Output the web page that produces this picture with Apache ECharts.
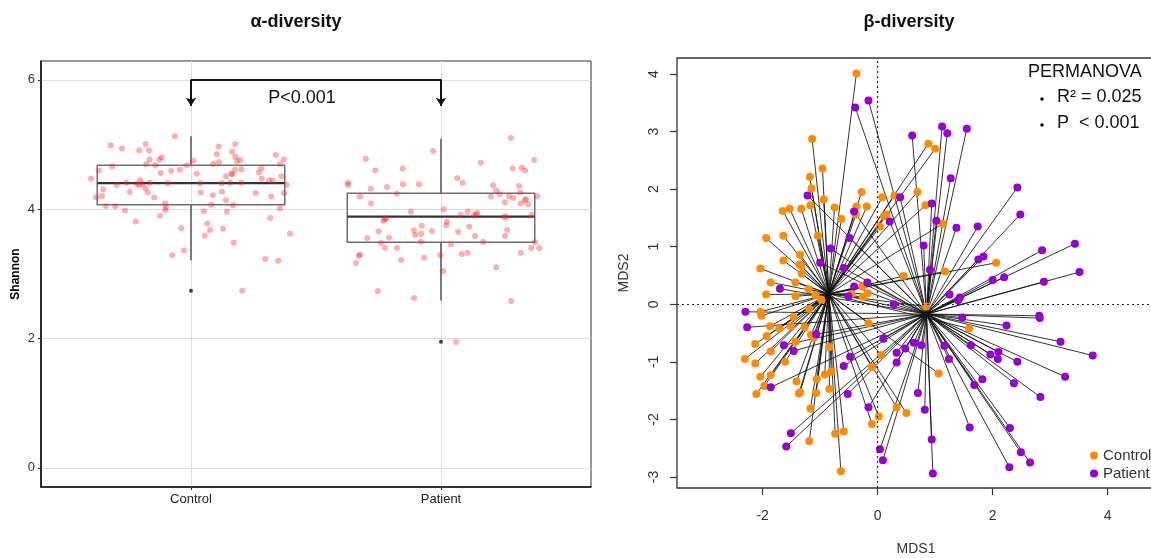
<!DOCTYPE html>
<html>
<head>
<meta charset="utf-8">
<title>alpha / beta diversity</title>
<script src="https://cdn.jsdelivr.net/npm/echarts@6/dist/echarts.min.js"></script>
<style>
html, body { margin: 0; padding: 0; background: #fff; }
#chart { width: 1151px; height: 558px; }
</style>
</head>
<body>
<div id="chart"></div>
<script>
// ---- alpha diversity (Shannon) ----
var groups = ['Control', 'Patient'];
var shannonTicks = [0, 2, 4, 6];

var ctrlJitter = [-0.065,-0.321,-0.276,-0.181,-0.207,-0.168,0.111,0.177,0.103,0.164,
	0.339,-0.165,-0.127,-0.117,0.009,0.177,0.184,0.196,0.371,-0.315,
	-0.179,-0.143,-0.017,0.089,0.112,0.356,-0.368,-0.121,-0.079,-0.045,
	0.023,0.140,0.161,0.165,0.176,0.201,0.281,0.271,0.361,-0.400,
	0.283,0.312,0.327,-0.203,-0.217,-0.207,-0.195,-0.259,-0.297,-0.165,
	-0.093,0.036,0.123,0.157,0.201,0.383,-0.351,-0.245,-0.183,-0.173,
	0.039,0.124,0.087,0.259,0.372,-0.380,-0.356,-0.147,0.140,0.321,
	-0.103,-0.101,-0.103,-0.341,-0.303,-0.264,0.081,0.168,0.051,0.144,
	0.356,-0.124,-0.221,0.065,0.317,-0.039,0.076,0.128,0.055,0.396,
	0.171,-0.028,-0.075,0.297,0.349,0.205];
var ctrlShannon = [5.13,4.99,4.94,5.01,4.91,4.91,4.97,5.01,4.85,4.89,
	4.84,4.77,4.77,4.80,4.75,4.81,4.74,4.76,4.77,4.66,
	4.70,4.68,4.68,4.70,4.73,4.70,4.60,4.56,4.59,4.61,
	4.55,4.51,4.55,4.54,4.61,4.62,4.63,4.57,4.51,4.47,
	4.47,4.45,4.44,4.45,4.39,4.375,4.39,4.41,4.375,4.41,
	4.40,4.40,4.40,4.41,4.41,4.38,4.31,4.27,4.33,4.26,
	4.26,4.27,4.215,4.25,4.25,4.185,4.205,4.18,4.14,4.195,
	4.09,4.03,3.99,4.05,4.045,3.98,4.07,4.06,3.97,3.96,
	4.01,3.90,3.81,3.78,3.865,3.705,3.68,3.70,3.59,3.62,
	3.48,3.36,3.29,3.23,3.205,2.74];

var patJitter = [0.280,-0.032,-0.301,0.373,0.159,-0.263,-0.153,0.287,0.323,0.337,
	-0.372,-0.372,-0.281,-0.216,-0.152,-0.088,0.065,0.087,0.208,0.221,
	0.235,0.312,0.317,-0.324,-0.177,0.200,0.272,0.289,0.340,0.335,
	0.385,-0.280,0.256,0.319,0.349,-0.120,0.011,0.107,0.079,0.132,
	0.140,0.145,0.253,0.260,0.363,-0.231,-0.224,-0.219,0.024,0.021,
	-0.249,-0.108,-0.077,-0.103,-0.079,-0.036,0.069,0.113,0.136,0.265,
	0.256,-0.295,-0.208,-0.240,-0.081,0.040,0.169,-0.224,-0.176,0.377,
	0.361,0.393,-0.324,-0.328,-0.340,-0.159,-0.068,-0.003,0.083,0.107,
	0.319,0.221,0.008,-0.253,-0.108,0.281,0.061];
var patShannon = [5.10,4.90,4.78,4.76,4.72,4.60,4.63,4.63,4.64,4.60,
	4.41,4.375,4.32,4.345,4.385,4.385,4.48,4.41,4.37,4.29,
	4.23,4.36,4.26,4.195,4.24,4.195,4.20,4.174,4.153,4.138,
	4.20,4.09,4.107,4.09,4.076,3.96,4.00,3.96,3.91,3.906,
	3.92,3.94,3.88,3.885,3.91,3.82,3.84,3.855,3.808,3.751,
	3.66,3.674,3.746,3.60,3.622,3.664,3.648,3.73,3.586,3.68,
	3.586,3.555,3.56,3.478,3.499,3.457,3.494,3.40,3.40,3.488,
	3.40,3.40,3.298,3.282,3.164,3.215,3.251,3.292,3.308,3.329,
	3.329,3.102,3.04,2.73,2.628,2.581,1.947];

// low whisker, Q1, median, Q3, high whisker
var ctrlBox = [3.21, 4.07, 4.405, 4.68, 5.13];
var patBox = [2.59, 3.49, 3.885, 4.246, 5.09];
var outlierGroup = [1, 2];
var outlierShannon = [2.74, 1.95];
var bracketTop = 6.0;
var bracketEnd = 5.6;

// ---- beta diversity (MDS) ----
var mds1Ticks = [-2, 0, 2, 4];
var mds2Ticks = [-3, -2, -1, 0, 1, 2, 3, 4];
var ctrlCentroid = [-0.85, 0.18];
var patCentroid = [0.85, -0.17];

var ctrlMds1 = [-0.37,-1.14,-0.96,-1.18,-1.15,-0.28,-0.94,-1.17,-1.65,-1.53,
	-1.33,-0.75,-0.37,-0.19,-0.38,-0.63,0.08,0.29,0.11,0.15,
	0.04,-1.94,-1.64,-1.04,-1.35,-1.64,-1.36,-1.33,-2.04,-1.32,
	-1.86,-1.43,-1.94,-1.43,-1.20,-1.08,-0.98,-0.45,-0.26,-0.17,
	-0.27,-1.19,-2.04,-2.02,-1.46,-1.87,-1.71,-1.51,-1.27,-1.93,
	-2.13,-1.86,-1.61,-1.43,-1.16,-1.11,-2.31,-2.13,-2.04,-1.86,
	-1.97,-2.11,-1.41,-1.06,-0.92,-0.81,-0.84,-0.84,-1.07,-1.37,
	-1.35,-1.17,-1.19,-0.74,-0.59,-0.64,-0.16,0.06,-0.10,0.33,
	0.02,-0.10,
	0.88,1.00,0.69,0.83,1.13,2.06,1.17,
	0.45,0.84,1.59,1.06,0.50];
var ctrlMds2 = [4.01,2.87,2.36,2.21,2.01,1.95,1.82,1.72,1.62,1.66,
	1.66,1.68,1.70,1.70,1.56,1.48,1.86,1.89,1.53,1.56,
	1.35,1.15,1.19,1.19,0.86,0.76,0.69,0.67,0.62,0.53,
	0.38,0.38,0.17,0.14,0.26,0.16,0.08,0.18,0.13,0.19,
	0.31,-0.08,-0.13,-0.20,-0.22,-0.38,-0.42,-0.38,-0.40,-0.55,
	-0.69,-0.82,-1.00,-0.65,-0.53,-0.58,-0.95,-1.03,-1.26,-1.23,
	-1.42,-1.56,-1.34,-1.30,-1.22,-1.17,-0.74,-1.47,-1.54,-1.55,
	-1.53,-1.81,-2.38,-2.25,-2.21,-2.90,-0.33,-0.88,-1.09,-1.79,
	-1.95,-2.08,
	2.79,2.70,1.95,1.72,1.40,0.72,0.57,
	0.49,-0.04,-0.42,-1.20,-1.89];

var patMds1 = [-0.39,-0.16,-1.22,0.39,-0.41,0.21,-0.49,-0.82,-1.00,-0.59,
	-1.70,-2.30,-2.27,-1.63,-1.46,-1.07,-1.86,-0.48,-0.59,-0.52,
	-0.16,-1.51,-1.59,0.04,0.09,-0.41,-0.51,0.10,0.28,0.33,
	0.33,-0.18,
	0.60,1.12,1.21,1.55,1.27,2.43,2.48,0.94,1.02,0.80,
	1.37,1.74,1.75,1.84,2.86,3.43,3.51,0.91,
	2.89,2.20,2.00,1.43,1.40,1.25,2.81,2.82,1.47,2.24,
	3.18,3.74,3.26,2.83,2.37,2.43,2.10,2.09,1.96,1.62,
	1.16,1.24,1.82,1.68,0.76,0.63,0.48,0.70,0.82,1.60,
	2.30,0.94,2.49,2.65,2.29,0.96];
var patMds2 = [3.42,3.54,1.89,1.86,1.61,1.44,1.15,0.97,0.72,0.63,
	0.27,-0.13,-0.40,-0.71,-0.81,-0.52,-1.44,-0.91,-1.07,-1.56,
	-1.79,-2.24,-2.47,-2.52,-2.71,0.31,0.14,-0.60,0.00,-0.84,
	-1.01,0.38,
	2.93,3.09,2.97,3.05,2.19,2.03,1.56,1.75,1.45,1.02,
	1.33,1.35,0.78,0.83,0.94,1.05,0.56,0.60,
	0.39,0.47,0.42,0.12,0.07,0.17,-0.20,-0.24,-0.23,-0.37,
	-0.65,-0.89,-1.26,-1.61,-1.37,-1.00,-0.83,-0.95,-0.87,-0.71,
	-0.72,-0.95,-1.30,-1.40,-0.71,-0.67,-0.77,-1.54,-1.83,-2.14,
	-2.15,-2.35,-2.57,-2.75,-2.83,-2.94];

var FONT = '"Liberation Sans", Arial, sans-serif';
var BOX_WIDTH = 0.75;

function pairs(xs, ys, shift) {
	var out = [];
	for (var i = 0; i < xs.length; i++) {
		out.push([xs[i] + (shift || 0), ys[i]]);
	}
	return out;
}

function spokes(xs, ys, centre) {
	var out = [];
	for (var i = 0; i < xs.length; i++) {
		out.push({ coords: [[xs[i], ys[i]], centre] });
	}
	return out;
}

function renderBox(params, api) {
	var x = api.value(0);
	var low = api.coord([x, api.value(1)]);
	var q1 = api.coord([x, api.value(2)]);
	var med = api.coord([x, api.value(3)]);
	var q3 = api.coord([x, api.value(4)]);
	var high = api.coord([x, api.value(5)]);
	var half = api.size([BOX_WIDTH, 0])[0] / 2;
	var whisker = { stroke: '#7a7a7a', lineWidth: 2 };
	return {
		type : 'group',
		children : [
			{ type : 'line', shape : { x1 : high[0], y1 : high[1], x2 : q3[0], y2 : q3[1] }, style : whisker },
			{ type : 'line', shape : { x1 : q1[0], y1 : q1[1], x2 : low[0], y2 : low[1] }, style : whisker },
			{ type : 'rect', shape : { x : q3[0] - half, y : q3[1], width : half * 2, height : q1[1] - q3[1] },
				style : { fill : 'rgba(255,255,255,0)', stroke : '#6e6e6e', lineWidth : 1.5 } },
			{ type : 'line', shape : { x1 : med[0] - half, y1 : med[1], x2 : med[0] + half, y2 : med[1] },
				style : { stroke : '#333', lineWidth : 2.2 } }
		]
	};
}

var chart = echarts.init(document.getElementById('chart'));

var option = {
	animation : false,
	textStyle : { fontFamily : FONT },
	grid : [
		{ left : 41, top : 61, width : 550, height : 426, show : true, borderColor : '#333', borderWidth : 1, outerBoundsMode : 'none' },
		{ left : 677, top : 58, width : 478, height : 430, show : true, borderColor : '#333', borderWidth : 1.3, outerBoundsMode : 'none' }
	],
	graphic : [
		{ type : 'text', x : 296, y : 22, style : { text : 'α-diversity', font : 'bold 18px ' + FONT, fill : '#111', align : 'center', verticalAlign : 'middle' } },
		{ type : 'text', x : 909, y : 22, style : { text : 'β-diversity', font : 'bold 18px ' + FONT, fill : '#111', align : 'center', verticalAlign : 'middle' } },
		{ type : 'text', x : 302, y : 98, style : { text : 'P<0.001', font : '18px ' + FONT, fill : '#111', align : 'center', verticalAlign : 'middle' } },
		{ type : 'text', x : 1028, y : 72, style : { text : 'PERMANOVA', font : '18px ' + FONT, fill : '#111', align : 'left', verticalAlign : 'middle' } },
		{ type : 'circle', shape : { cx : 1042, cy : 99, r : 1.8 }, style : { fill : '#111' } },
		{ type : 'text', x : 1057, y : 97, style : { text : 'R² = 0.025', font : '18px ' + FONT, fill : '#111', align : 'left', verticalAlign : 'middle' } },
		{ type : 'circle', shape : { cx : 1042, cy : 125, r : 1.8 }, style : { fill : '#111' } },
		{ type : 'text', x : 1057, y : 123, style : { text : 'P  < 0.001', font : '18px ' + FONT, fill : '#111', align : 'left', verticalAlign : 'middle' } }
	],
	legend : {
		data : [ { name : 'Control', icon : 'circle' }, { name : 'Patient', icon : 'circle' } ],
		orient : 'vertical',
		left : 1090,
		top : 448,
		padding : 0,
		itemWidth : 8,
		itemHeight : 8,
		itemGap : 3,
		selectedMode : false,
		textStyle : { fontSize : 15, color : '#333' }
	},
	xAxis : [
		{
			type : 'value', gridIndex : 0, min : 0.4, max : 2.6,
			axisLine : { show : true, onZero : false, lineStyle : { color : '#111', width : 1.6 } },
			axisTick : { show : true, customValues : [1, 2], length : 3, lineStyle : { color : '#333' } },
			axisLabel : { customValues : [1, 2], margin : 6, fontSize : 13, color : '#222',
				formatter : function (v) { return groups[Math.round(v) - 1]; } },
			splitLine : { show : true, lineStyle : { color : '#dedede', width : 1 } }
		},
		{
			type : 'value', gridIndex : 1, min : -3.49, max : 4.823,
			name : 'MDS1', nameLocation : 'middle', nameGap : 54,
			nameTextStyle : { fontSize : 14, color : '#333' },
			axisLine : { show : false, onZero : false },
			axisTick : { show : true, customValues : mds1Ticks, length : 7, lineStyle : { color : '#333', width : 1.2 } },
			axisLabel : { customValues : mds1Ticks, margin : 21, fontSize : 14, color : '#333' },
			splitLine : { show : false }
		}
	],
	yAxis : [
		{
			type : 'value', gridIndex : 0, min : -0.295, max : 6.292,
			name : 'Shannon', nameLocation : 'middle', nameGap : 19,
			nameTextStyle : { fontSize : 12, fontWeight : 'bold', color : '#000' },
			axisLine : { show : true, onZero : false, lineStyle : { color : '#111', width : 1.6 } },
			axisTick : { show : true, customValues : shannonTicks, length : 3, lineStyle : { color : '#333' } },
			axisLabel : { customValues : shannonTicks, margin : 6, fontSize : 13, color : '#333' },
			splitLine : { show : true, lineStyle : { color : '#dedede', width : 1 } }
		},
		{
			type : 'value', gridIndex : 1, min : -3.191, max : 4.278,
			name : 'MDS2', nameLocation : 'middle', nameGap : 46,
			nameTextStyle : { fontSize : 14, color : '#333' },
			axisLine : { show : false, onZero : false },
			axisTick : { show : true, customValues : mds2Ticks, length : 7, lineStyle : { color : '#333', width : 1.2 } },
			axisLabel : { customValues : mds2Ticks, rotate : 90, margin : 16, fontSize : 14, color : '#333' },
			splitLine : { show : false }
		}
	],
	series : [
		{
			name : 'box',
			type : 'custom',
			xAxisIndex : 0, yAxisIndex : 0,
			data : [ [1].concat(ctrlBox), [2].concat(patBox) ],
			encode : { x : 0, y : [1, 2, 3, 4, 5] },
			renderItem : renderBox,
			z : 2
		},
		{
			name : 'ctrl-jitter',
			type : 'scatter',
			xAxisIndex : 0, yAxisIndex : 0,
			data : pairs(ctrlJitter, ctrlShannon, 1),
			symbolSize : 6,
			itemStyle : { color : 'rgba(255,30,30,0.45)' },
			z : 3
		},
		{
			name : 'pat-jitter',
			type : 'scatter',
			xAxisIndex : 0, yAxisIndex : 0,
			data : pairs(patJitter, patShannon, 2),
			symbolSize : 6,
			itemStyle : { color : 'rgba(255,30,30,0.45)' },
			z : 3
		},
		{
			name : 'outlier',
			type : 'scatter',
			xAxisIndex : 0, yAxisIndex : 0,
			data : pairs(outlierGroup, outlierShannon),
			symbolSize : 4,
			itemStyle : { color : '#111' },
			z : 4
		},
		{
			name : 'bracket',
			type : 'line',
			xAxisIndex : 0, yAxisIndex : 0,
			data : [ [1, bracketEnd], [1, bracketTop], [2, bracketTop], [2, bracketEnd] ],
			symbol : 'none',
			lineStyle : { color : '#111', width : 2 },
			z : 5
		},
		{
			name : 'bracket-arrows',
			type : 'lines',
			coordinateSystem : 'cartesian2d',
			xAxisIndex : 0, yAxisIndex : 0,
			data : [ { coords : [ [1, bracketTop], [1, bracketEnd] ] }, { coords : [ [2, bracketTop], [2, bracketEnd] ] } ],
			symbol : [ 'none', 'arrow' ],
			symbolSize : 8,
			lineStyle : { color : '#111', width : 2, opacity : 1 },
			z : 5
		},
		{
			name : 'ctrl-spokes',
			type : 'lines',
			coordinateSystem : 'cartesian2d',
			xAxisIndex : 1, yAxisIndex : 1,
			data : spokes(ctrlMds1, ctrlMds2, ctrlCentroid),
			lineStyle : { color : '#111', width : 1, opacity : 0.85 },
			markLine : {
				silent : true,
				symbol : 'none',
				label : { show : false },
				lineStyle : { color : '#222', type : [2, 3], width : 1.2 },
				data : [ { xAxis : 0 }, { yAxis : 0 } ]
			},
			z : 2
		},
		{
			name : 'pat-spokes',
			type : 'lines',
			coordinateSystem : 'cartesian2d',
			xAxisIndex : 1, yAxisIndex : 1,
			data : spokes(patMds1, patMds2, patCentroid),
			lineStyle : { color : '#111', width : 1, opacity : 0.85 },
			z : 2
		},
		{
			name : 'Control',
			type : 'scatter',
			xAxisIndex : 1, yAxisIndex : 1,
			data : pairs(ctrlMds1, ctrlMds2),
			symbolSize : 8,
			itemStyle : { color : '#FF8C00', opacity : 1 },
			z : 4
		},
		{
			name : 'Patient',
			type : 'scatter',
			xAxisIndex : 1, yAxisIndex : 1,
			data : pairs(patMds1, patMds2),
			symbolSize : 8,
			itemStyle : { color : '#9400D3', opacity : 1 },
			z : 4
		}
	]
};

chart.setOption(option);
window.onresize = chart.resize;
</script>
</body>
</html>
